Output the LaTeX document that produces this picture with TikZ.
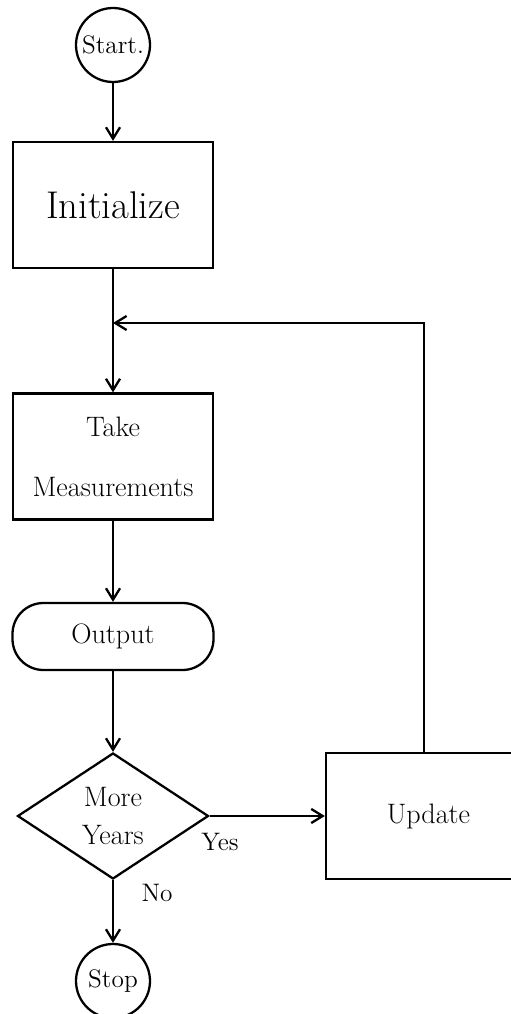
\documentclass[tikz,border=0pt]{standalone}
\usepackage{tikz}
\usetikzlibrary{arrows.meta,shapes.geometric}
\begin{document}
\begin{tikzpicture}[font=\fontsize{16}{19}\selectfont,>={Straight Barb[length=6.5pt,width=8pt]},
    x=1cm,y=1cm,line width=1.3pt,
    terminal/.style={draw,circle,minimum size=1.48cm,inner sep=0pt,font=\Large},
    stepbox/.style={draw,minimum width=4.0cm,minimum height=2.52cm,align=center},
    iobox/.style={draw,rounded corners=0.62cm,minimum width=4.02cm,minimum height=1.34cm},
    choice/.style={draw,diamond,aspect=1.5,minimum width=3.82cm,minimum height=2.52cm,
        inner sep=0pt,align=center},
    answer/.style={font=\Large}]
    \useasboundingbox (0,0) rectangle (10.22,20.28);

    \node[terminal] (start) at (2.26,19.38) {Start.};
    \node[stepbox,font=\fontsize{22}{26}\selectfont] (init) at (2.26,16.18) {Initialize};
    \node[stepbox] (meas) at (2.26,11.15) {Take\\[0.53cm]Measurements};
    \node[iobox] (out) at (2.26,7.55) {Output};
    \node[choice] (more) at (2.26,3.96) {More\\[0.11cm]Years};
    \node[stepbox,minimum width=4.1cm] (upd) at (8.57,3.96) {Update};
    \node[terminal] (stop) at (2.26,0.66) {Stop};
    \coordinate (join) at (2.26,13.82);
    \coordinate (back) at (8.48,13.82);

    \draw[->] (start) -- (init);
    \draw (init) -- (join);
    \draw[->] (join) -- (meas);
    \draw[->] (meas) -- (out);
    \draw[->] (out) -- (more);
    \draw[->] (more) -- (upd);
    \draw[->] (more) -- (stop);
    \draw[->] (upd.north -| back) -- (back) -- (join);

    \node[answer] (yes) at (4.40,3.44) {Yes};
    \node[answer] (no) at (3.14,2.42) {No};
\end{tikzpicture}
\end{document}
